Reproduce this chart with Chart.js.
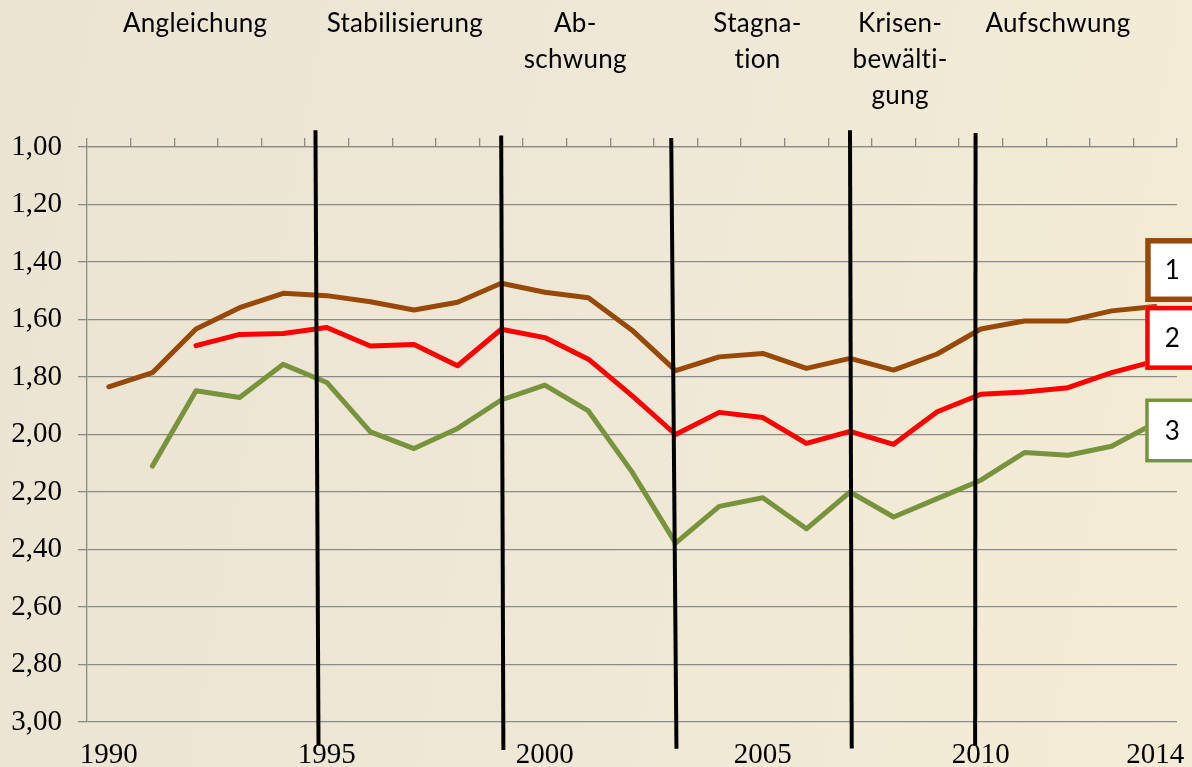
<!DOCTYPE html>
<html lang="de">
<head>
<meta charset="utf-8">
<title>Phasen 1990–2014</title>
<script src="https://cdn.jsdelivr.net/npm/chart.js@4.4.1/dist/chart.umd.min.js"></script>
<style>
    html, body { margin: 0; padding: 0; }
    body {
        width: 1192px;
        height: 767px;
        overflow: hidden;
        background: linear-gradient(100deg, #ebe4d2 0%, #efe8d6 55%, #f4ecd4 100%);
    }
    #wrap { position: relative; width: 1192px; height: 767px; }
</style>
</head>
<body>
<div id="wrap"><canvas id="phaseChart" width="1192" height="767"></canvas></div>
<script>
// --- Data ---
const years = ['1990', '1991', '1992', '1993', '1994', '1995', '1996', '1997', '1998', '1999',
    '2000', '2001', '2002', '2003', '2004', '2005', '2006', '2007', '2008', '2009',
    '2010', '2011', '2012', '2013', '2014'];
const shownYears = ['1990', '1995', '2000', '2005', '2010', '2014'];
const yTicks = [1.00, 1.20, 1.40, 1.60, 1.80, 2.00, 2.20, 2.40, 2.60, 2.80, 3.00];

const series1 = [1.834, 1.785, 1.633, 1.559, 1.509, 1.517, 1.538, 1.567, 1.540, 1.474, 1.505, 1.524, 1.637,
    1.778, 1.730, 1.718, 1.770, 1.735, 1.776, 1.720, 1.633, 1.605, 1.605, 1.570, 1.555];
const series2 = [null, null, 1.691, 1.652, 1.649, 1.628, 1.692, 1.687, 1.761, 1.634, 1.663, 1.738, 1.865,
    2.000, 1.923, 1.941, 2.031, 1.989, 2.034, 1.921, 1.860, 1.852, 1.837, 1.785, 1.745];
const series3 = [null, 2.110, 1.848, 1.871, 1.756, 1.819, 1.991, 2.049, 1.979, 1.880, 1.828, 1.918, 2.130,
    2.378, 2.250, 2.220, 2.328, 2.200, 2.287, 2.223, 2.159, 2.063, 2.072, 2.041, 1.960];
const seriesNames = ['1', '2', '3'];

// phase names (lines) and where they sit (in years)
const phaseNames = [['Angleichung'], ['Stabilisierung'], ['Ab-', 'schwung'], ['Stagna-', 'tion'],
    ['Krisen-', 'bewälti-', 'gung'], ['Aufschwung']];
const phaseCenters = [1991.98, 1996.79, 2000.70, 2004.88, 2008.15, 2011.77];

// phase borders drawn by hand: start/end in years and in axis values
const breakTopYear = [1994.74, 1999.00, 2002.90, 2007.00, 2009.88];
const breakBottomYear = [1994.81, 1999.05, 2003.02, 2007.04, 2009.87];
const breakTopVal = [0.942, 0.960, 0.969, 0.942, 0.951];
const breakBottomVal = [3.083, 3.097, 3.093, 3.092, 3.083];

const COLORS = ['#984807', '#ff0000', '#77933c'];
const GRID = '#8a8a8a';
const SERIF = '"Liberation Serif", "Times New Roman", serif';
const SANS = 'Lato, "Open Sans", sans-serif';

// --- Overlay: phase borders, phase names, series name boxes ---
const phaseOverlay = {
    id: 'phaseOverlay',
    afterDatasetsDraw(chart, args, opts) {
        const { ctx } = chart;
        const x = chart.scales.x;
        const y = chart.scales.y;
        ctx.save();

        // name boxes at the end of each line
        chart.data.datasets.forEach((ds, i) => {
            const meta = chart.getDatasetMeta(i);
            const last = meta.data[meta.data.length - 1];
            const bw = opts.boxBorder[i];
            const left = last.x - 10;
            const cy = y.getPixelForValue(opts.boxCenters[i]);
            const h = 64;
            ctx.fillStyle = '#ffffff';
            ctx.fillRect(left, cy - h / 2, 90, h);
            ctx.strokeStyle = ds.borderColor;
            ctx.lineWidth = bw;
            ctx.strokeRect(left + bw / 2, cy - h / 2 + bw / 2, 90, h - bw);
            ctx.fillStyle = '#000';
            ctx.font = '26px ' + SANS;
            ctx.textAlign = 'center';
            ctx.textBaseline = 'middle';
            ctx.fillText(seriesNames[i], left + 27, cy + 1);
        });

        // vertical phase borders
        ctx.strokeStyle = '#000';
        ctx.lineWidth = 4;
        breakTopYear.forEach((yr, i) => {
            ctx.beginPath();
            ctx.moveTo(x.getPixelForValue(yr - 1990), y.getPixelForValue(breakTopVal[i]));
            ctx.lineTo(x.getPixelForValue(breakBottomYear[i] - 1990), y.getPixelForValue(breakBottomVal[i]));
            ctx.stroke();
        });

        // phase names
        ctx.fillStyle = '#000';
        ctx.font = '26px ' + SANS;
        ctx.letterSpacing = '0.3px'; // also stops the "ti" ligature
        ctx.textAlign = 'center';
        ctx.textBaseline = 'alphabetic';
        phaseNames.forEach((lines, i) => {
            const cx = x.getPixelForValue(phaseCenters[i] - 1990);
            lines.forEach((txt, j) => ctx.fillText(txt, cx, 32 + j * 36));
        });

        ctx.restore();
    }
};

// --- Chart ---
const ctx = document.getElementById('phaseChart').getContext('2d');
new Chart(ctx, {
    type: 'line',
    data: {
        labels: years,
        datasets: [series1, series2, series3].map((vals, i) => ({
            label: seriesNames[i],
            data: vals,
            borderColor: COLORS[i],
            backgroundColor: COLORS[i],
            borderWidth: 5,
            pointRadius: 0,
            tension: 0,
            borderJoinStyle: 'round',
            borderCapStyle: 'round'
        }))
    },
    options: {
        responsive: false,
        devicePixelRatio: 1,
        animation: false,
        layout: { padding: { top: 138, right: 15, left: 0, bottom: 0 } },
        plugins: {
            legend: { display: false },
            tooltip: { enabled: false },
            phaseOverlay: {
                boxCenters: [1.428, 1.664, 1.986],
                boxBorder: [5.5, 4.5, 3.5]
            }
        },
        scales: {
            x: {
                type: 'category',
                position: 'bottom',
                offset: true,
                grid: { display: false, drawTicks: false },
                border: { display: false },
                ticks: {
                    autoSkip: false,
                    maxRotation: 0,
                    padding: 19,
                    color: '#000',
                    font: { family: SERIF, size: 29, lineHeight: 1 },
                    callback: function (v) {
                        const lbl = this.getLabelForValue(v);
                        return shownYears.includes(lbl) ? lbl : '';
                    }
                },
                afterFit: s => {
                    s.height = 45;
                    s.paddingLeft = 0;
                    s.paddingRight = 0;
                }
            },
            x2: {
                type: 'category',
                position: 'top',
                labels: years,
                offset: true,
                grid: { offset: true, drawOnChartArea: false, tickLength: 9, color: GRID, lineWidth: 1.3 },
                border: { color: GRID, width: 1.3 },
                ticks: { display: false },
                afterFit: s => {
                    s.height = 9;
                    s.paddingLeft = 0;
                    s.paddingRight = 0;
                }
            },
            y: {
                min: 1,
                max: 3,
                reverse: true,
                afterBuildTicks: s => { s.ticks = yTicks.map(v => ({ value: v })); },
                grid: { color: GRID, lineWidth: 1.3, tickLength: 9 },
                border: { color: GRID, width: 1.3 },
                ticks: {
                    padding: 16,
                    color: '#000',
                    font: { family: SERIF, size: 29 },
                    callback: v => Number(v).toFixed(2).replace('.', ',')
                },
                afterFit: s => { s.width = 87; }
            }
        }
    },
    plugins: [phaseOverlay]
});
</script>
</body>
</html>
